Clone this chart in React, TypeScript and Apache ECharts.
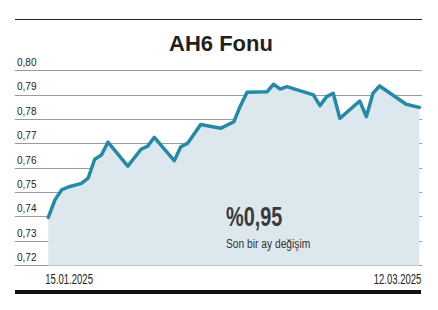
import React, { useEffect, useRef } from "react";
import * as echarts from "echarts";

const title = "AH6 Fonu";
const changeText = "%0,95";
const changeLabel = "Son bir ay değişim";

const dates = [
  "2025-01-15", "2025-01-16", "2025-01-17", "2025-01-18", "2025-01-20",
  "2025-01-21", "2025-01-22", "2025-01-23", "2025-01-24", "2025-01-27",
  "2025-01-29", "2025-01-30", "2025-01-31", "2025-02-03", "2025-02-04",
  "2025-02-05", "2025-02-07", "2025-02-10", "2025-02-12", "2025-02-13",
  "2025-02-14", "2025-02-17", "2025-02-18", "2025-02-19", "2025-02-20",
  "2025-02-24", "2025-02-25", "2025-02-26", "2025-02-27", "2025-02-28",
  "2025-03-03", "2025-03-04", "2025-03-05", "2025-03-06", "2025-03-10",
  "2025-03-12",
];
const values = [
  0.7397, 0.7469, 0.751, 0.7522, 0.7537,
  0.7558, 0.7636, 0.7653, 0.7706, 0.7608,
  0.7677, 0.769, 0.7726, 0.763, 0.7687,
  0.7701, 0.7779, 0.7763, 0.779, 0.7856,
  0.7911, 0.7913, 0.7944, 0.7924, 0.7934,
  0.79, 0.7856, 0.7893, 0.7907, 0.7804,
  0.7875, 0.7811, 0.7907, 0.7937, 0.7862,
  0.7849,
];
const yMin = 0.72;
const yMax = 0.8;
const yStep = 0.01;

const DAY = 86400000;
const LINE = "#2589a8";
const AREA = "#dde7ee";
const SANS = '"Liberation Sans", Arial, sans-serif';

const fmtDate = (s: string) => {
  const [y, m, d] = s.split("-");
  return `${d}.${m}.${y}`;
};

export default function App() {
  const ref = useRef<HTMLDivElement>(null);
  useEffect(() => {
    if (!ref.current) return;
    const chart = echarts.init(ref.current, null, { renderer: "svg" });
    const ts = dates.map((d) => +echarts.time.parse(d));
    const first = ts[0];
    const last = ts[ts.length - 1];
    chart.setOption({
      animation: false,
      backgroundColor: "#ffffff",
      grid: { left: 15, right: 16, top: 70.6, bottom: 44.6, containLabel: false },
      xAxis: {
        type: "time",
        min: first - 5.03 * DAY,
        max: last + 0.4 * DAY,
        axisLine: { show: false },
        axisTick: { show: false },
        axisLabel: { show: false },
        splitLine: { show: false },
      },
      yAxis: {
        type: "value",
        min: yMin,
        max: yMax,
        interval: yStep,
        axisLine: { show: false },
        axisTick: { show: false },
        axisLabel: {
          inside: true,
          margin: 2,
          verticalAlign: "bottom",
          padding: [0, 0, 3, 0],
          fontFamily: SANS,
          fontSize: 10,
          color: "#222",
          formatter: (v: number) => v.toFixed(2).replace(".", ","),
        },
        splitLine: { lineStyle: { color: "#9a9a9a", width: 1 } },
      },
      series: [
        {
          type: "line",
          data: ts.map((t, i) => [t, values[i]]),
          showSymbol: false,
          lineStyle: { color: LINE, width: 3.5, join: "round", cap: "round" },
          areaStyle: { color: AREA, opacity: 1 },
          z: 5,
        },
      ],
    });
    const x0 = chart.convertToPixel({ xAxisIndex: 0 }, first) as number;
    const x1 = chart.convertToPixel({ xAxisIndex: 0 }, last) as number;
    chart.setOption({
      graphic: [
        {
          type: "line",
          shape: { x1: 15, y1: 19.5, x2: 422, y2: 19.5 },
          style: { stroke: "#222", lineWidth: 1 },
        },
        {
          type: "text",
          x: 221,
          y: 43,
          style: {
            text: title,
            fontFamily: SANS,
            fontWeight: "bold",
            fontSize: 22,
            fill: "#231f20",
            textAlign: "center",
            textVerticalAlign: "middle",
          },
        },
        {
          type: "rect",
          z: 100,
          shape: { x: 224, y: 203, width: 92, height: 50 },
          style: { fill: AREA },
        },
        {
          type: "text",
          z: 101,
          x: 226,
          y: 216,
          scaleX: 0.71,
          style: {
            text: changeText,
            fontFamily: SANS,
            fontWeight: "bold",
            fontSize: 28,
            fill: "#3a3a3a",
            textAlign: "left",
            textVerticalAlign: "middle",
          },
        },
        {
          type: "text",
          z: 101,
          x: 226,
          y: 243.5,
          scaleX: 0.82,
          style: {
            text: changeLabel,
            fontFamily: SANS,
            fontSize: 12.5,
            fill: "#333",
            textAlign: "left",
            textVerticalAlign: "middle",
          },
        },
        {
          type: "text",
          x: x0 - 3,
          y: 279,
          scaleX: 0.68,
          style: {
            text: fmtDate(dates[0]),
            fontFamily: SANS,
            fontSize: 14,
            fill: "#222",
            textAlign: "left",
            textVerticalAlign: "middle",
          },
        },
        {
          type: "text",
          x: x1 + 2,
          y: 279,
          scaleX: 0.68,
          style: {
            text: fmtDate(dates[dates.length - 1]),
            fontFamily: SANS,
            fontSize: 14,
            fill: "#222",
            textAlign: "right",
            textVerticalAlign: "middle",
          },
        },
        {
          type: "rect",
          shape: { x: 15, y: 290, width: 406, height: 4 },
          style: { fill: "#111" },
        },
      ],
    });
    return () => chart.dispose();
  }, []);
  return (
    <div
      ref={ref}
      style={{ position: "fixed", left: 0, top: 0, width: 438, height: 310, background: "#fff" }}
    />
  );
}
